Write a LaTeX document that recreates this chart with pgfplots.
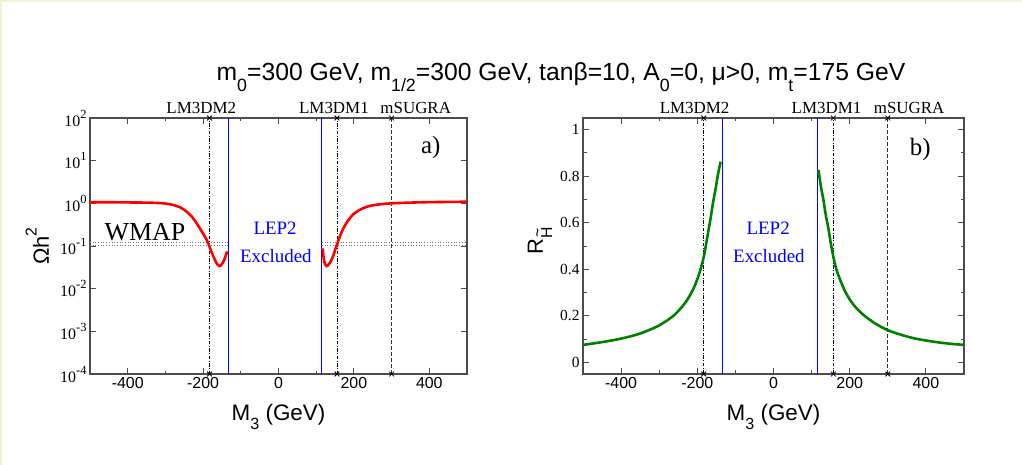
\documentclass[border=0pt]{standalone}
\usepackage{fontspec}
\setmainfont{Liberation Serif}
\newfontfamily\sans{Liberation Sans}
\usepackage{graphicx}
\usepackage{pgfplots}
\pgfplotsset{compat=1.18}

% lowered / raised small text, Grace style
\newcommand{\lo}[1]{\raisebox{-0.42em}{\scalebox{0.72}{#1}}}
\newcommand{\hi}[1]{\raisebox{0.55em}{\scalebox{0.72}{#1}}}
\newcommand{\ex}[1]{10\raisebox{0.5em}{\scalebox{0.78}{#1}}}
\newcommand{\fs}[1]{\fontsize{#1}{#1}\selectfont}
% H with a tilde on top
\newcommand{\Htil}{\ooalign{H\cr\hidewidth\raisebox{0.6em}{\char"007E}\hidewidth\cr}}

\definecolor{curvegreen}{RGB}{0,128,0}
\definecolor{cream}{RGB}{242,242,215}

% LEP2 limits (GeV)
\def\LEPlo{-133}
\def\LEPhi{115}

\tikzset{toplabel/.style={anchor=base, yshift=4bp, font=\fs{17}}}

\pgfplotsset{
  panel/.style={
    scale only axis,
    height=256bp,
    xmin=-500, xmax=500,
    xtick={-400,-200,0,200,400},
    minor xtick={-300,-100,100,300},
    tick align=inside,
    major tick length=6bp, minor tick length=3.5bp,
    axis line style={black!70, line width=1.1bp},
    every tick/.style={black!70, line width=0.9bp},
    /pgf/number format/assume math mode=true,
    x tick label style={font=\sans\fs{16}},
    y tick label style={font=\fs{15.5}},
    xlabel={M\lo{3} (GeV)},
    xlabel style={font=\sans\fs{22.5}, at={(axis description cs:0.5,0)}, anchor=base, yshift=-46bp},
    clip=false,
  },
  bench/.style={black, line width=0.7bp, dash pattern=on 3.5bp off 1.5bp on 1bp off 1.5bp,
    mark=x, mark size=3.4bp, mark options={solid, line width=0.8bp}},
  sugra/.style={black!80, line width=0.7bp, dash pattern=on 4bp off 2bp,
    mark=x, mark size=3.4bp, mark options={solid, black, line width=0.8bp}},
  lep/.style={blue, line width=1bp},
}

\begin{document}
\begin{tikzpicture}
\path[use as bounding box] (0,0) rectangle (1022bp,465bp);
\fill[white] (0,0) rectangle (1022bp,465bp);
\draw[cream, line width=2bp] (1bp,0) -- (1bp,464bp) -- (1022bp,464bp);

\node[anchor=base, font=\sans\fs{24.8}] at (561bp,384bp)
  {m\lo{0}=300 GeV, m\lo{1/2}=300 GeV, tanβ=10, A\lo{0}=0, μ>0, m\lo{t}=175 GeV};

% ---------------- a) relic density ----------------
\begin{axis}[panel,
  at={(90bp,91bp)}, anchor=south west,
  width=377bp,
  ymode=log, ymin=1e-4, ymax=1e2,
  ytick={1e-4,1e-3,1e-2,1e-1,1e0,1e1,1e2},
  yticklabels={\ex{-4},\ex{-3},\ex{-2},\ex{-1},\ex{0},\ex{1},\ex{2}},
  y tick label style={font=\fs{16}},
  yminorticks=false,
  ylabel={Ωh\hi{2}},
  ylabel style={font=\sans\fs{22}, at={(axis description cs:-0.14,0.5)}, anchor=center},
]
% WMAP band
\addplot[black!55, dotted, line width=0.7bp] coordinates {(-500,0.106) (\LEPlo,0.106)};
\addplot[black!55, dotted, line width=0.7bp] coordinates {(-500,0.124) (\LEPlo,0.124)};
\addplot[black!55, dotted, line width=0.7bp] coordinates {(\LEPhi,0.106) (500,0.106)};
\addplot[black!55, dotted, line width=0.7bp] coordinates {(\LEPhi,0.124) (500,0.124)};
% benchmark points and LEP2 limits
\addplot[bench] coordinates {(-183,1e-4) (-183,1e2)};
\addplot[bench] coordinates {(155,1e-4) (155,1e2)};
\addplot[sugra] coordinates {(300,1e-4) (300,1e2)};
\addplot[lep] coordinates {(\LEPlo,1e-4) (\LEPlo,1e2)};
\addplot[lep] coordinates {(\LEPhi,1e-4) (\LEPhi,1e2)};
% Omega h^2
\addplot[red, line width=2.6bp, smooth] coordinates {
(-500,1.06) (-450,1.06) (-400,1.05) (-350,1.04) (-320,1.02) (-300,0.99)
(-280,0.92) (-260,0.80) (-244,0.64) (-230,0.49) (-217,0.34) (-205,0.23)
(-195,0.165) (-188,0.125) (-183,0.096) (-177,0.070) (-172,0.055) (-167,0.044)
(-162,0.037) (-157,0.034) (-153,0.035) (-148,0.040) (-143,0.050) (-139,0.063)
(-136,0.075)};
\addplot[red, line width=2.6bp, smooth] coordinates {
(117,0.088) (119,0.060) (121,0.045) (124,0.037) (127,0.034) (131,0.035)
(136,0.040) (141,0.048) (146,0.062) (151,0.085) (156,0.113) (163,0.17)
(172,0.26) (185,0.40) (198,0.55) (215,0.70) (234,0.83) (260,0.93)
(300,1.00) (350,1.04) (411,1.07) (500,1.09)};
\node[toplabel] at (axis cs:-205,1e2) {LM3DM2};
\node[toplabel] at (axis cs:147,1e2) {LM3DM1};
\node[toplabel] at (axis cs:364,1e2) {mSUGRA};
\node[font=\fs{25}] at (axis cs:404,20) {a)};
\node[font=\fs{26}, anchor=base] at (axis cs:-354,0.138) {WMAP};
\node[font=\fs{19}, text=blue] at (axis cs:-9,0.264) {LEP2};
\node[font=\fs{19}, text=blue] at (axis cs:-7,0.059) {Excluded};
\end{axis}

% ---------------- b) higgsino fraction ----------------
\begin{axis}[panel,
  at={(583bp,91bp)}, anchor=south west,
  width=381bp,
  ymin=-0.05, ymax=1.05,
  ytick={0,0.2,0.4,0.6,0.8,1},
  minor ytick={0.1,0.3,0.5,0.7,0.9},
  ylabel={R\lo{\Htil}},
  ylabel style={font=\sans\fs{22}, at={(axis description cs:-0.113,0.52)}, anchor=center},
]
\addplot[bench] coordinates {(-183,-0.05) (-183,1.05)};
\addplot[bench] coordinates {(157,-0.05) (157,1.05)};
\addplot[sugra] coordinates {(300,-0.05) (300,1.05)};
\addplot[lep] coordinates {(\LEPlo,-0.05) (\LEPlo,1.05)};
\addplot[lep] coordinates {(\LEPhi,-0.05) (\LEPhi,1.05)};
\addplot[curvegreen, line width=2.6bp, smooth] coordinates {
(-500,0.075) (-450,0.087) (-400,0.102) (-350,0.124) (-300,0.159) (-260,0.204)
(-230,0.260) (-210,0.317) (-195,0.381) (-183,0.454) (-172,0.555) (-165,0.620)
(-159,0.684) (-152,0.745) (-146,0.805) (-139,0.862)};
\addplot[curvegreen, line width=2.6bp, smooth] coordinates {
(118,0.827) (124,0.760) (131,0.698) (137,0.635) (144,0.576) (150,0.515)
(157,0.454) (165,0.400) (175,0.354) (187,0.308) (201,0.268) (217,0.234)
(236,0.204) (265,0.169) (299,0.139) (330,0.121) (367,0.104) (400,0.094)
(437,0.085) (470,0.079) (500,0.075)};
\node[toplabel] at (axis cs:-207,1.05) {LM3DM2};
\node[toplabel] at (axis cs:139,1.05) {LM3DM1};
\node[toplabel] at (axis cs:356,1.05) {mSUGRA};
\node[font=\fs{25}] at (axis cs:385,0.913) {b)};
\node[font=\fs{19}, text=blue] at (axis cs:-14,0.578) {LEP2};
\node[font=\fs{19}, text=blue] at (axis cs:-12,0.459) {Excluded};
\end{axis}
\end{tikzpicture}
\end{document}
